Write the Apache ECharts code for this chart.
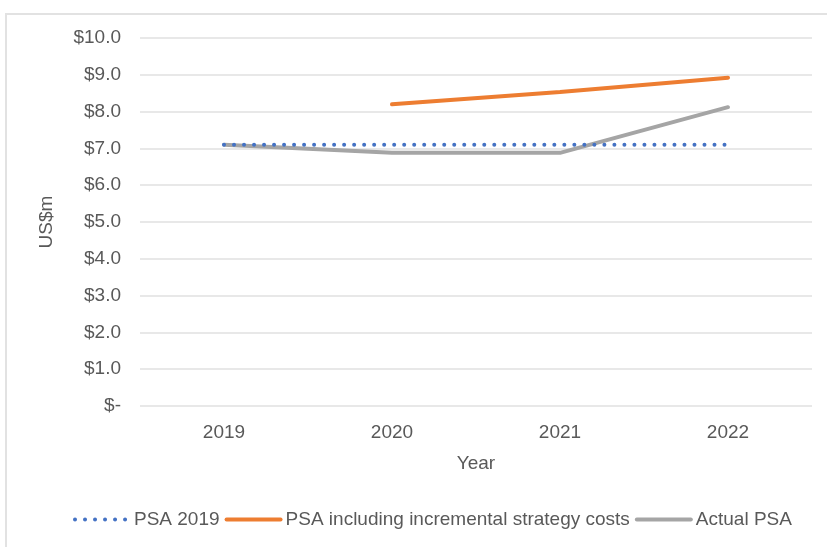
<!DOCTYPE html>
<html>
<head>
<meta charset="utf-8">
<title>PSA</title>
<script src="https://cdn.jsdelivr.net/npm/echarts@6/dist/echarts.min.js"></script>
<style>
  html, body { margin: 0; padding: 0; background: #ffffff; }
  #chart { width: 827px; height: 547px; }
</style>
</head>
<body>
<div id="chart"></div>
<script>
// Years on the category axis
const years = ['2019', '2020', '2021', '2022'];

// PSA values, US$ millions
const psa2019 = [7.1, 7.1, 7.1, 7.1];
const psaWithStrategyCosts = [null, 8.2, 8.53, 8.92];
const actualPsa = [7.1, 6.88, 6.88, 8.12];

// Value axis range and step
const yMin = 0;
const yMax = 10;
const yStep = 1;

const seriesNames = ['PSA 2019', 'PSA including incremental strategy costs', 'Actual PSA'];

const FONT = '"Liberation Sans", Arial, Helvetica, sans-serif';
const TEXT = '#595959';

const chart = echarts.init(document.getElementById('chart'), null, { renderer: 'canvas' });

chart.setOption({
  backgroundColor: '#ffffff',
  animation: false,
  textStyle: { fontFamily: FONT },
  graphic: [{
    type: 'rect',
    silent: true,
    z: -10,
    shape: { x: 6, y: 14, width: 840, height: 600 },
    style: { fill: 'none', stroke: '#e2e2e2', lineWidth: 2 }
  }],
  grid: { left: 140, right: 15, top: 38, bottom: 141, containLabel: false },
  legend: {
    left: 68,
    top: 505,
    itemWidth: 54,
    itemHeight: 14,
    itemGap: 5,
    itemStyle: { opacity: 0 },
    lineStyle: { width: 4 },
    textStyle: { fontFamily: FONT, fontSize: 19, color: TEXT },
    data: seriesNames
  },
  xAxis: {
    type: 'category',
    data: years,
    boundaryGap: true,
    name: 'Year',
    nameLocation: 'middle',
    nameGap: 48,
    nameTextStyle: { fontFamily: FONT, fontSize: 19, color: TEXT },
    axisLine: { show: false },
    axisTick: { show: false },
    axisLabel: { fontFamily: FONT, fontSize: 19, color: TEXT, margin: 17 }
  },
  yAxis: {
    type: 'value',
    min: yMin,
    max: yMax,
    interval: yStep,
    name: 'US$m',
    nameLocation: 'middle',
    nameGap: 84,
    nameRotate: 90,
    nameTextStyle: { fontFamily: FONT, fontSize: 19, color: TEXT },
    axisLine: { show: false },
    axisTick: { show: false },
    splitLine: { lineStyle: { color: '#e0e0e0', width: 1.5 } },
    axisLabel: {
      fontFamily: FONT,
      fontSize: 19,
      color: TEXT,
      margin: 19,
      formatter: function (v) { return v === 0 ? '$-' : '$' + v.toFixed(1); }
    }
  },
  series: [
    {
      name: seriesNames[0],
      type: 'line',
      data: psa2019,
      symbol: 'none',
      z: 4,
      lineStyle: { color: '#4472C4', width: 4, type: [0.01, 10], cap: 'round' },
      itemStyle: { color: '#4472C4' }
    },
    {
      name: seriesNames[1],
      type: 'line',
      data: psaWithStrategyCosts,
      symbol: 'none',
      z: 3,
      lineStyle: { color: '#ED7D31', width: 4, cap: 'round' },
      itemStyle: { color: '#ED7D31' }
    },
    {
      name: seriesNames[2],
      type: 'line',
      data: actualPsa,
      symbol: 'none',
      z: 3,
      lineStyle: { color: '#A5A5A5', width: 4, cap: 'round' },
      itemStyle: { color: '#A5A5A5' }
    }
  ]
});
</script>
</body>
</html>
